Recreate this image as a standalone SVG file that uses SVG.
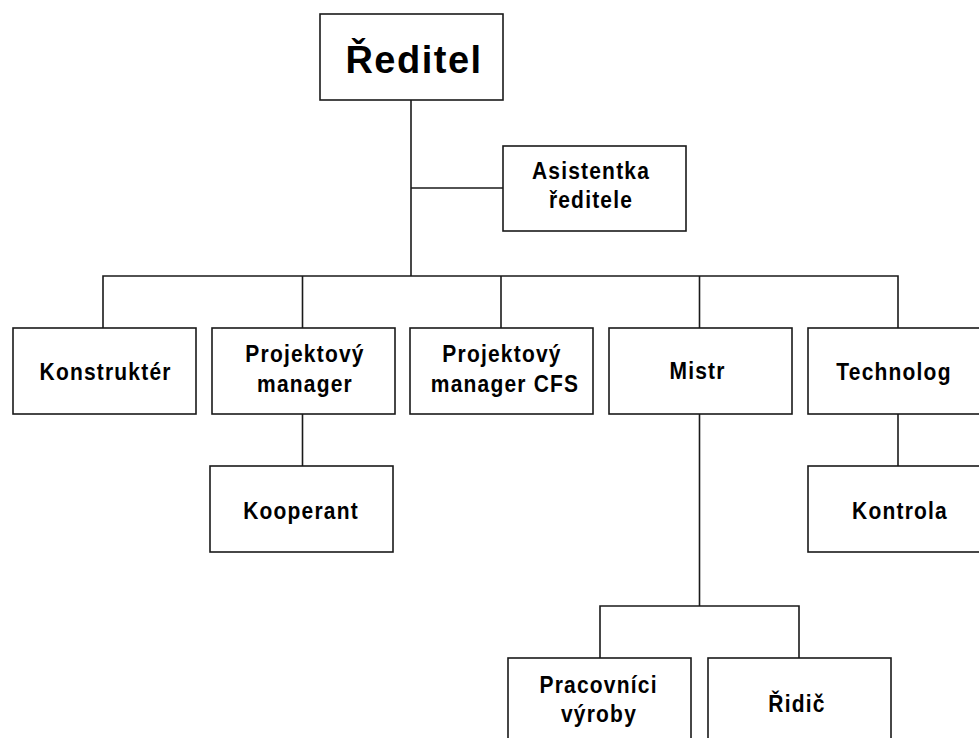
<svg xmlns="http://www.w3.org/2000/svg" width="979" height="738" viewBox="0 0 979 738">
<style>
  .box { fill: #ffffff; stroke: #1a1a1a; stroke-width: 1.6; }
  .conn { fill: none; stroke: #1a1a1a; stroke-width: 1.6; }
  .lbl { font-family: "Liberation Sans", Arial, sans-serif; font-weight: bold; font-size: 21px; letter-spacing: 1.2px; text-anchor: middle; fill: #000; }
  .big { font-family: "Liberation Sans", Arial, sans-serif; font-weight: bold; font-size: 38px; letter-spacing: 1.5px; text-anchor: middle; fill: #000; }
</style>
<rect width="979" height="738" fill="#ffffff"/>
<g id="connectors">
  <path class="conn" d="M411,100 V276"/>
  <path class="conn" d="M411,188 H503"/>
  <path class="conn" d="M103,328 V276 H898 V328"/>
  <path class="conn" d="M302.5,276 V328"/>
  <path class="conn" d="M501,276 V328"/>
  <path class="conn" d="M699.5,276 V328"/>
  <path class="conn" d="M302.5,414 V466"/>
  <path class="conn" d="M898,414 V466"/>
  <path class="conn" d="M699.5,414 V606"/>
  <path class="conn" d="M600,658 V606 H799 V658"/>
</g>
<g id="reditel">
  <rect class="box" x="320" y="14" width="183" height="86"/>
  <text class="big" x="414" y="73">Ředitel</text>
</g>
<g id="asistentka">
  <rect class="box" x="503" y="146" width="183" height="85"/>
  <g transform="translate(591,179) scale(1,1.15)"><text class="lbl" x="0" y="0">Asistentka</text></g>
  <g transform="translate(591,208) scale(1,1.15)"><text class="lbl" x="0" y="0">ředitele</text></g>
</g>
<g id="konstrukter">
  <rect class="box" x="13" y="328" width="183" height="86"/>
  <g transform="translate(105.6,380) scale(1,1.15)"><text class="lbl" x="0" y="0">Konstruktér</text></g>
</g>
<g id="projektovy-manager">
  <rect class="box" x="212" y="328" width="183" height="86"/>
  <g transform="translate(305,362) scale(1,1.15)"><text class="lbl" x="0" y="0">Projektový</text></g>
  <g transform="translate(305,392) scale(1,1.15)"><text class="lbl" x="0" y="0">manager</text></g>
</g>
<g id="projektovy-manager-cfs">
  <rect class="box" x="410" y="328" width="183" height="86"/>
  <g transform="translate(502,362) scale(1,1.15)"><text class="lbl" x="0" y="0">Projektový</text></g>
  <g transform="translate(505,392) scale(1,1.15)"><text class="lbl" x="0" y="0">manager CFS</text></g>
</g>
<g id="mistr">
  <rect class="box" x="609" y="328" width="183" height="86"/>
  <g transform="translate(697.6,379) scale(1,1.15)"><text class="lbl" x="0" y="0">Mistr</text></g>
</g>
<g id="technolog">
  <rect class="box" x="808" y="328" width="183" height="86"/>
  <g transform="translate(894,380) scale(1,1.15)"><text class="lbl" x="0" y="0">Technolog</text></g>
</g>
<g id="kooperant">
  <rect class="box" x="210" y="466" width="183" height="86"/>
  <g transform="translate(301,519) scale(1,1.15)"><text class="lbl" x="0" y="0">Kooperant</text></g>
</g>
<g id="kontrola">
  <rect class="box" x="808" y="466" width="183" height="86"/>
  <g transform="translate(900,519) scale(1,1.15)"><text class="lbl" x="0" y="0">Kontrola</text></g>
</g>
<g id="pracovnici-vyroby">
  <rect class="box" x="508" y="658" width="183" height="86"/>
  <g transform="translate(598.6,693) scale(1,1.15)"><text class="lbl" x="0" y="0">Pracovníci</text></g>
  <g transform="translate(599,722) scale(1,1.15)"><text class="lbl" x="0" y="0">výroby</text></g>
</g>
<g id="ridic">
  <rect class="box" x="708" y="658" width="183" height="86"/>
  <g transform="translate(797,712) scale(1,1.15)"><text class="lbl" x="0" y="0">Řidič</text></g>
</g>
</svg>
